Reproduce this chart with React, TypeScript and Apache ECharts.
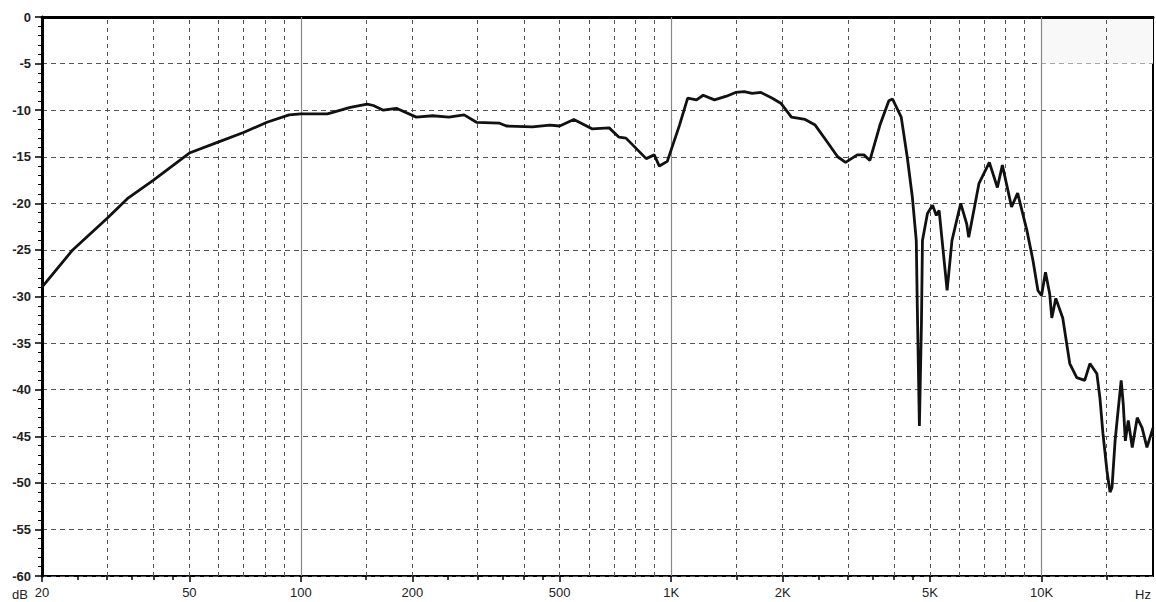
import React, { useEffect, useRef } from "react";
import * as echarts from "echarts";

// Frequency response (Hz, dB)
const freqs = [
  20, 24.2, 30, 34, 40, 50, 60, 70, 81, 93, 100, 118, 136, 151, 157, 167, 181, 205, 227, 251,
  276, 298, 344, 359, 422, 470, 500, 546, 611, 680, 723, 755, 856, 900, 929, 976, 1053, 1108,
  1171, 1220, 1309, 1410, 1492, 1575, 1654, 1747, 1870, 1977, 2112, 2300, 2448, 2648, 2815,
  2957, 3180, 3315, 3440, 3662, 3870, 3960, 4180, 4340, 4480, 4590, 4620, 4680, 4740, 4770,
  4920, 5080, 5200, 5290, 5560, 5730, 6050, 6280, 6360, 6780, 7230, 7600, 7840, 8300, 8620,
  9130, 9480, 9780, 10000, 10250, 10520, 10660, 10930, 11410, 11920, 12450, 13080, 13510,
  14110, 14380, 14650, 15020, 15310, 15500, 15800, 16000, 16410, 16620, 16840, 17150, 17580,
  18130, 18690, 19260, 20000,
];
const levels = [
  -29.0, -25.0, -21.6, -19.5, -17.5, -14.6, -13.4, -12.4, -11.3, -10.5, -10.4, -10.4, -9.7,
  -9.35, -9.5, -10.0, -9.8, -10.75, -10.6, -10.75, -10.5, -11.3, -11.4, -11.7, -11.8, -11.6,
  -11.7, -11.0, -12.0, -11.9, -12.9, -13.0, -15.2, -14.8, -16.0, -15.5, -11.6, -8.7, -8.9,
  -8.4, -8.9, -8.5, -8.1, -8.0, -8.2, -8.1, -8.7, -9.25, -10.75, -11.0, -11.6, -13.5, -15.0,
  -15.6, -14.8, -14.8, -15.4, -11.6, -9.0, -8.8, -10.75, -15.05, -19.35, -24.0, -31.2, -43.9,
  -32.9, -24.0, -21.1, -20.2, -21.3, -20.75, -29.35, -24.0, -20.0, -22.2, -23.65, -17.85,
  -15.6, -18.3, -15.9, -20.4, -18.9, -22.9, -26.1, -29.35, -29.9, -27.4, -29.7, -32.3, -30.2,
  -32.3, -37.2, -38.7, -39.0, -37.2, -38.3, -40.9, -44.7, -48.7, -51.0, -50.5, -45.5, -43.3,
  -39.0, -41.5, -45.5, -43.3, -46.2, -43.0, -44.1, -46.2, -44.1,
];

const xLabelValues = [20, 50, 100, 200, 500, 1000, 2000, 5000, 10000];
const xLabelTexts = ["20", "50", "100", "200", "500", "1K", "2K", "5K", "10K"];
const xMinorTickValues = [
  25, 30, 35, 40, 45, 150, 250, 300, 350, 400, 450, 1500, 2500, 3000, 3500, 4000, 4500, 15000,
];
const dashedGridFreqs = [
  30, 40, 50, 60, 70, 80, 90, 150, 200, 300, 400, 500, 600, 700, 800, 900, 1500, 2000, 3000,
  4000, 5000, 6000, 7000, 8000, 9000, 15000,
];
const decadeGridFreqs = [100, 1000, 10000];

const X_MIN = 20;
const X_MAX = 20000;
const Y_MIN = -60;
const Y_MAX = 0;

export default function App() {
  const ref = useRef<HTMLDivElement>(null);

  useEffect(() => {
    if (!ref.current) return;
    const chart = echarts.init(ref.current, null, { renderer: "svg" });
    const font = 'Arial, "Liberation Sans", sans-serif';
    const lmin = Math.log10(X_MIN);
    const lmax = Math.log10(X_MAX);
    const labelLogs = xLabelValues.map((v) => Math.log10(v));

    chart.setOption({
      animation: false,
      backgroundColor: "#ffffff",
      grid: {
        left: 42,
        right: 3,
        top: 17,
        bottom: 26,
        show: true,
        borderColor: "#000",
        borderWidth: 2,
        outerBoundsMode: "none",
      },
      xAxis: [
        {
          type: "log",
          logBase: 10,
          min: X_MIN,
          max: X_MAX,
          position: "bottom",
          axisLine: { show: true, lineStyle: { color: "#000", width: 3 } },
          axisTick: { show: false },
          axisLabel: { show: false },
          splitLine: { show: false },
        },
        {
          type: "value",
          min: lmin,
          max: lmax,
          position: "bottom",
          axisLine: { show: false },
          splitLine: { show: false },
          axisTick: {
            show: true,
            customValues: labelLogs,
            length: 6,
            inside: false,
            lineStyle: { color: "#000", width: 1.5 },
          },
          axisLabel: {
            show: true,
            customValues: labelLogs,
            margin: 10,
            fontSize: 13,
            fontFamily: font,
            color: "#222",
            formatter: (val: number) => {
              const i = labelLogs.findIndex((l) => Math.abs(l - val) < 1e-6);
              return i >= 0 ? xLabelTexts[i] : "";
            },
          },
        },
        {
          type: "value",
          min: lmin,
          max: lmax,
          position: "bottom",
          axisLine: { show: false },
          splitLine: { show: false },
          axisLabel: { show: false },
          axisTick: {
            show: true,
            customValues: xMinorTickValues.map((v) => Math.log10(v)),
            length: 4,
            lineStyle: { color: "#000", width: 1.5 },
          },
        },
      ],
      yAxis: {
        type: "value",
        min: Y_MIN,
        max: Y_MAX,
        interval: 5,
        axisLine: { show: true, lineStyle: { color: "#000", width: 3 } },
        axisTick: { show: true, length: 7, lineStyle: { color: "#000", width: 1.5 } },
        minorTick: { show: true, splitNumber: 5, length: 4, lineStyle: { color: "#000", width: 1 } },
        axisLabel: {
          margin: 11,
          fontSize: 13,
          fontWeight: "bold",
          fontFamily: font,
          color: "#222",
        },
        splitLine: { show: true, lineStyle: { color: "#555", type: [5, 4], width: 1 } },
      },
      graphic: [
        {
          type: "text",
          left: 12,
          top: 588,
          style: { text: "dB", font: `13px ${font}`, fill: "#222" },
        },
        {
          type: "text",
          right: 5,
          top: 588,
          style: { text: "Hz", font: `13px ${font}`, fill: "#222" },
        },
      ],
      series: [
        {
          type: "line",
          xAxisIndex: 0,
          data: [],
          silent: true,
          z: 1,
          markArea: {
            silent: true,
            z: 0,
            itemStyle: { color: "#f9f8f9" },
            data: [[{ xAxis: 10000, yAxis: 0 }, { xAxis: 20000, yAxis: -5 }]],
          },
          markLine: {
            silent: true,
            z: 1,
            symbol: ["none", "none"],
            label: { show: false },
            data: [
              ...dashedGridFreqs.map((f) => ({
                xAxis: f,
                lineStyle: { color: "#555", type: [4, 4], width: 1 },
              })),
              ...decadeGridFreqs.map((f) => ({
                xAxis: f,
                lineStyle: { color: "#888", type: "solid", width: 1.2 },
              })),
            ],
          },
        },
        {
          type: "line",
          xAxisIndex: 0,
          z: 5,
          symbol: "none",
          lineStyle: { color: "#111", width: 2.8 },
          data: freqs.map((f, i) => [f, levels[i]]),
        },
      ],
    });

    return () => chart.dispose();
  }, []);

  return (
    <div
      ref={ref}
      style={{ position: "fixed", left: 0, top: 0, width: 1156, height: 602 }}
    />
  );
}
